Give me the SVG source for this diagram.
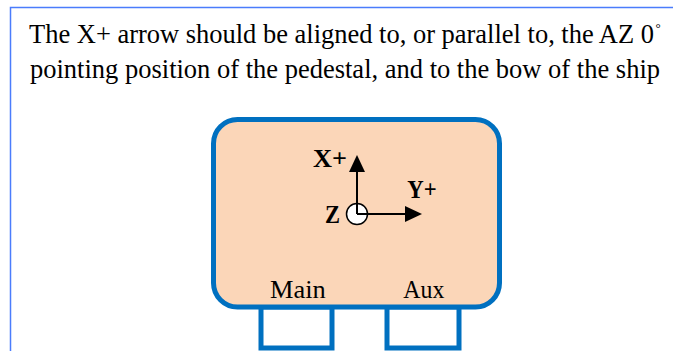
<svg xmlns="http://www.w3.org/2000/svg" width="673" height="351" viewBox="0 0 673 351">
<style>
.frame{fill:none;stroke:#4a7cfc;stroke-width:1.5}
.box{fill:#fbd6b8;stroke:#0070c0;stroke-width:5}
.port{fill:#ffffff;stroke:#0070c0;stroke-width:5}
.t{font-family:"Liberation Serif","Times New Roman",serif;fill:#000}
.title{font-size:26.5px}
.lbl{font-size:26px}
.axis{font-size:26px;font-weight:bold}
.ax{stroke:#000;stroke-width:2;fill:none}
</style>
<defs>
<marker id="ah" viewBox="0 0 17 16" refX="0" refY="8" markerWidth="17" markerHeight="16" markerUnits="userSpaceOnUse" orient="auto">
<path d="M0,0 L17,8 L0,16 Z" fill="#000"/>
</marker>
</defs>
<rect class="frame" x="10.5" y="7.5" width="700" height="400"/>
<g id="title">
<text class="t title" x="29" y="43.3" textLength="625" lengthAdjust="spacingAndGlyphs">The X+ arrow should be aligned to, or parallel to, the AZ 0</text>
<text class="t" x="655.5" y="32" font-size="13">°</text>
<text class="t title" x="30" y="78.3" textLength="630" lengthAdjust="spacingAndGlyphs">pointing position of the pedestal, and to the bow of the ship</text>
</g>
<g id="port-main">
<rect class="port" x="261" y="307" width="71" height="41"/>
</g>
<g id="port-aux">
<rect class="port" x="387" y="307" width="72" height="41"/>
</g>
<g id="pedestal">
<rect class="box" x="213.5" y="119.5" width="286" height="187.5" rx="24" ry="24"/>
<text class="t lbl" x="270" y="298.3" textLength="55.7" lengthAdjust="spacingAndGlyphs">Main</text>
<text class="t lbl" x="403.3" y="298.3" textLength="41" lengthAdjust="spacingAndGlyphs">Aux</text>
</g>
<g id="connectors">
<line class="ax" x1="357" y1="214" x2="357" y2="172" marker-end="url(#ah)"/>
<line class="ax" x1="357" y1="214" x2="405" y2="214" marker-end="url(#ah)"/>
</g>
<g id="axes">
<circle cx="357" cy="214" r="10.5" fill="#fff" stroke="#000" stroke-width="1.5"/>
<line class="ax" x1="357" y1="214" x2="357" y2="203.5"/>
<line class="ax" x1="357" y1="214" x2="367.5" y2="214"/>
<text class="t axis" x="313" y="166.7" textLength="34" lengthAdjust="spacingAndGlyphs">X+</text>
<text class="t axis" x="407.3" y="198.3" textLength="29.4" lengthAdjust="spacingAndGlyphs">Y+</text>
<text class="t axis" x="325" y="222.8" textLength="15" lengthAdjust="spacingAndGlyphs">Z</text>
</g>
</svg>
